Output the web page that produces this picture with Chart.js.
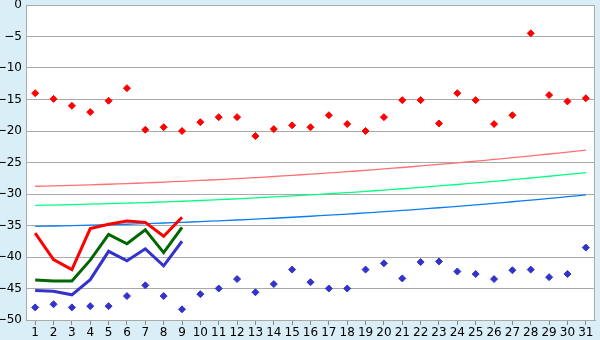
<!DOCTYPE html>
<html>
<head>
<meta charset="utf-8">
<script src="https://cdn.jsdelivr.net/npm/chart.js@4/dist/chart.umd.min.js"></script>
<style>
  body { margin: 0; background: #d9eef6; }
  canvas { display: block; }
</style>
</head>
<body>
<canvas id="myChart" width="600" height="340"></canvas>
<script>
let ctx = document.getElementById('myChart').getContext('2d')

// days of the month
let days = []
for (let d = 1; d <= 31; d++) days.push(String(d))

// scattered daily points
let redPoints = [-14.0, -14.9, -16.0, -17.0, -15.2, -13.2, -19.8, -19.4, -20.0, -18.6,
  -17.8, -17.8, -20.8, -19.7, -19.1, -19.4, -17.5, -18.9, -20.0, -17.8,
  -15.1, -15.1, -18.8, -14.0, -15.1, -18.9, -17.5, -4.5, -14.3, -15.3, -14.8]
let bluePoints = [-48.0, -47.5, -48.0, -47.8, -47.8, -46.2, -44.5, -46.2, -48.3, -45.9,
  -45.0, -43.5, -45.6, -44.3, -42.0, -44.0, -45.0, -45.0, -42.0, -41.0,
  -43.4, -40.8, -40.7, -42.3, -42.7, -43.5, -42.1, -42.0, -43.2, -42.7, -38.5]

// thin trend lines
let pinkLine = [-28.77, -28.70, -28.63, -28.54, -28.45, -28.35, -28.24, -28.11, -27.99, -27.85,
  -27.71, -27.56, -27.39, -27.22, -27.04, -26.85, -26.66, -26.45, -26.24, -26.01,
  -25.79, -25.55, -25.30, -25.05, -24.79, -24.52, -24.24, -23.95, -23.65, -23.35, -23.04]
let lightGreenLine = [-31.80, -31.75, -31.69, -31.62, -31.54, -31.46, -31.36, -31.26, -31.15, -31.03,
  -30.90, -30.77, -30.62, -30.47, -30.31, -30.14, -29.96, -29.78, -29.59, -29.38,
  -29.17, -28.95, -28.72, -28.49, -28.24, -27.99, -27.73, -27.46, -27.18, -26.90, -26.61]
let lightBlueLine = [-35.13, -35.08, -35.02, -34.95, -34.88, -34.80, -34.71, -34.60, -34.50, -34.38,
  -34.26, -34.13, -33.99, -33.85, -33.69, -33.53, -33.36, -33.19, -33.00, -32.81,
  -32.61, -32.40, -32.18, -31.96, -31.72, -31.48, -31.23, -30.97, -30.71, -30.43, -30.15]

// thick lines, first 9 days only
let redThick = [-36.2, -40.4, -42.0, -35.5, -34.8, -34.3, -34.5, -36.7, -33.7]
let greenThick = [-43.65, -43.8, -43.8, -40.5, -36.4, -37.9, -35.7, -39.3, -35.3]
let blueThick = [-45.3, -45.45, -46.0, -43.6, -39.1, -40.6, -38.7, -41.4, -37.5]

let yTicks = [0, -5, -10, -15, -20, -25, -30, -35, -40, -45, -50]

const thin = (data, color) => ({
  type: 'line', data: data, borderColor: color, borderWidth: 1.3,
  pointRadius: 0, tension: 0.4, fill: false
})
const thick = (data, color) => ({
  type: 'line', data: data, borderColor: color, borderWidth: 3,
  pointRadius: 0, tension: 0, fill: false
})
const dots = (data, color) => ({
  type: 'line', data: data, showLine: false, pointStyle: 'rectRot',
  pointRadius: 3.5, pointBackgroundColor: color, pointBorderColor: color, pointBorderWidth: 1
})

// white plot area + frame
const frame = {
  id: 'frame',
  beforeDraw(chart) {
    let a = chart.chartArea, c = chart.ctx
    c.save()
    c.fillStyle = '#d9eef6'
    c.fillRect(0, 0, chart.width, chart.height)
    c.fillStyle = '#ffffff'
    c.fillRect(a.left, a.top, a.right - a.left, a.bottom - a.top)
    c.restore()
  },
  afterDraw(chart) {
    let a = chart.chartArea, c = chart.ctx
    c.save()
    c.strokeStyle = '#aaaaaa'
    c.lineWidth = 1
    c.strokeRect(a.left + 0.5, a.top + 0.5, a.right - a.left - 1, a.bottom - a.top)
    c.restore()
  }
}

let chart = new Chart(ctx, {
  type: 'line',
  data: {
    labels: days,
    datasets: [
      thick(redThick, '#ff0000'),
      thick(greenThick, '#006600'),
      thick(blueThick, '#3333cc'),
      thin(pinkLine, '#ff7070'),
      thin(lightGreenLine, '#00ff80'),
      thin(lightBlueLine, '#0a7ef0'),
      dots(redPoints, '#ff0000'),
      dots(bluePoints, '#3333cc')
    ]
  },
  options: {
    responsive: false,
    animation: false,
    layout: { padding: { top: 5, right: 5, left: 0, bottom: 0 } },
    plugins: { legend: { display: false }, tooltip: { enabled: false } },
    scales: {
      x: {
        offset: true,
        grid: { drawOnChartArea: false, drawTicks: true, tickLength: 5, color: '#888888' },
        border: { color: '#aaaaaa' },
        ticks: { color: '#000', padding: 1, maxRotation: 0, autoSkip: false, font: { family: 'DejaVu Sans', size: 12 } },
        afterFit(s) { s.height = 20; s.paddingLeft = 0; s.paddingRight = 0 }
      },
      y: {
        min: -50, max: 0,
        afterBuildTicks(s) { s.ticks = yTicks.map(v => ({ value: v })) },
        grid: { color: '#aaaaaa', drawTicks: false },
        border: { color: '#aaaaaa' },
        ticks: {
          color: '#000', padding: 4,
          font: { family: 'DejaVu Sans', size: 12 },
          callback: v => String(v).replace('-', '\u2212')
        },
        afterFit(s) { s.width = 26; s.paddingTop = 0; s.paddingBottom = 0 }
      }
    }
  },
  plugins: [frame]
})
</script>
</body>
</html>
